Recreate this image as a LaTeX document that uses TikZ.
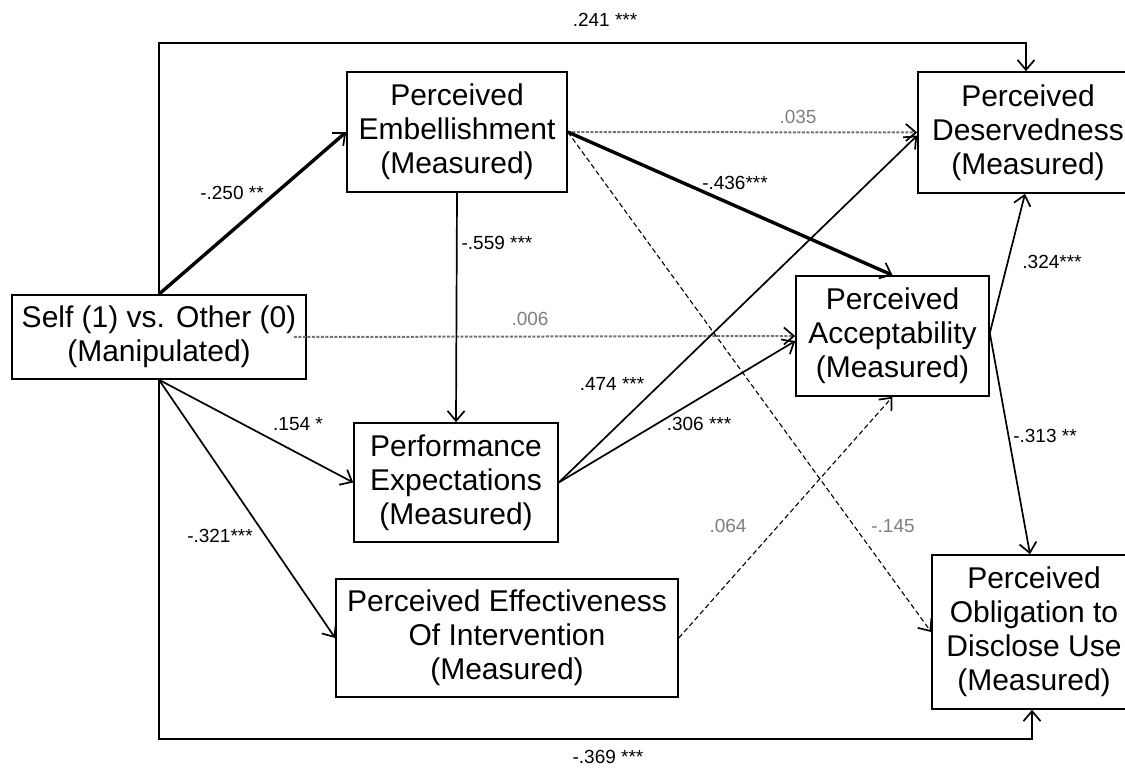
\documentclass[tikz,border=0pt]{standalone}
\usepackage{fontspec}
\setmainfont{Liberation Sans}
\usetikzlibrary{arrows.meta}
\begin{document}
\begin{tikzpicture}[x=1pt,y=-1pt,
  box/.style={draw, line width=1.6pt, align=center, inner sep=0pt, font=\fontsize{30}{34}\selectfont},
  tip/.style={-{Straight Barb[length=10pt,width=17pt,line width=1.7pt,color=black]}},
  arr/.style={tip, line width=1.7pt},
  frame arr/.style={tip, line width=2.2pt},
  thick arr/.style={tip, line width=3.4pt},
  grey dash/.style={tip, line width=2pt, black!55, dash pattern=on 3pt off 1.5pt},
  thin dash/.style={tip, line width=1.1pt, dash pattern=on 5pt off 3pt},
  lab/.style={inner sep=0pt, font=\fontsize{19}{21}\selectfont},
  grey lab/.style={lab, text=black!50}
]
\useasboundingbox (0,0) rectangle (1125,768);
\clip (0,0) rectangle (1125,768);
\fill[white] (0,0) rectangle (1125,768);

% boxes
\node[box, minimum width=294pt, minimum height=84pt] (self) at (159,337) {Self (1) vs. Other (0)\\(Manipulated)};
\node[box, minimum width=220pt, minimum height=120pt] (emb) at (457,132) {Perceived\\Embellishment\\(Measured)};
\node[box, minimum width=204pt, minimum height=119pt] (perf) at (456,482.5) {Performance\\Expectations\\(Measured)};
\node[box, minimum width=342pt, minimum height=118pt] (eff) at (507,638) {Perceived Effectiveness\\Of Intervention\\(Measured)};
\node[box, minimum width=193pt, minimum height=120pt] (acc) at (892.5,336) {Perceived\\Acceptability\\(Measured)};
\node[box, minimum width=220pt, minimum height=121pt] (des) at (1028,132.5) {Perceived\\Deservedness\\(Measured)};
\node[box, minimum width=204pt, minimum height=154pt] (obl) at (1034,632) {Perceived\\Obligation to\\Disclose Use\\(Measured)};

% frame connectors
\coordinate (topleft) at (159,43);
\coordinate (botleft) at (159,739);
\draw[frame arr] (self.north) -- (topleft) -| ([xshift=-2pt]des.north);
\draw[frame arr] (self.south) -- (botleft) -| ([xshift=-2pt]obl.south);

% connectors
\draw[thick arr] (self.north) -- (emb.west);
\draw[arr] (self.south) -- (perf.west);
\draw[arr] (self.south) -- (eff.west);
\draw[grey dash] ([xshift=-13pt]self.east) -- (acc.west);
\draw[arr] (emb.south) -- (perf.north);
\draw[grey dash] (emb.east) -- (des.west);
\draw[thick arr] (emb.east) -- (acc.north);
\draw[thin dash] (emb.east) -- (obl.west);
\draw[arr] (perf.east) -- ([yshift=-3pt]des.west);
\draw[arr] (perf.east) -- ([yshift=-5pt]acc.west);
\draw[thin dash] (eff.east) -- (acc.south);
\draw[arr] ([yshift=3pt]acc.east) -- ([xshift=-3pt]des.south);
\draw[arr] ([yshift=3pt]acc.east) -- ([xshift=-4pt]obl.north);

% labels
\node[lab] (l241) at (605,20) {.241 ***};
\node[lab] (l250) at (232,193) {-.250 **};
\node[lab] (l559) at (497,243) {-.559 ***};
\node[grey lab] (l035) at (798,117) {.035};
\node[lab] (l436) at (735,183) {-.436***};
\node[grey lab] (l006) at (530,319) {.006};
\node[lab] (l474) at (612,384) {.474 ***};
\node[lab] (l306) at (699,424) {.306 ***};
\node[lab] (l154) at (298,424) {.154 *};
\node[lab] (l321) at (220,536) {-.321***};
\node[grey lab] (l064) at (728,526) {.064};
\node[grey lab] (l145) at (893,526) {-.145};
\node[lab] (l324) at (1052,262) {.324***};
\node[lab] (l313) at (1045,436) {-.313 **};
\node[lab] (l369) at (608,757) {-.369 ***};
\end{tikzpicture}
\end{document}
